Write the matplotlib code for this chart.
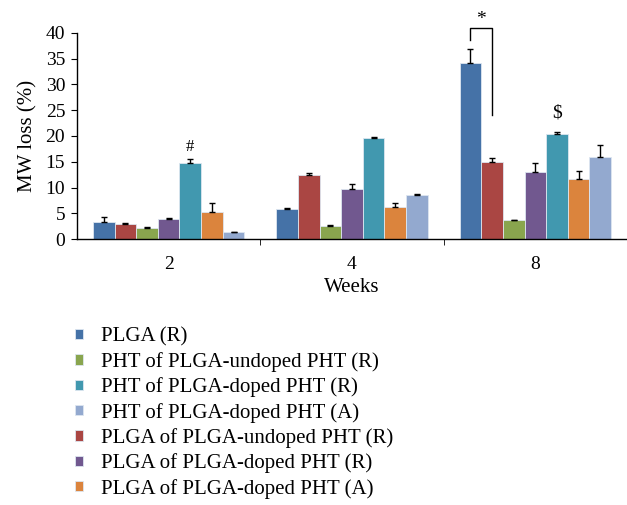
import matplotlib
matplotlib.use("Agg")
import matplotlib.pyplot as plt
import numpy as np

plt.rcParams['font.family'] = ['Liberation Serif', 'DejaVu Serif']

weeks = ["2", "4", "8"]
series_names = [
    "PLGA (R)",
    "PLGA of PLGA-undoped PHT (R)",
    "PHT of PLGA-undoped PHT (R)",
    "PLGA of PLGA-doped PHT (R)",
    "PHT of PLGA-doped PHT (R)",
    "PLGA of PLGA-doped PHT (A)",
    "PHT of PLGA-doped PHT (A)",
]
colors = ["#4572A7", "#AA4643", "#89A54E", "#71588F", "#4198AF", "#DB843D", "#93A9CF"]

plga_r = [3.3, 5.8, 34.1]
plga_undoped_r = [3.0, 12.4, 14.9]
pht_undoped_r = [2.1, 2.5, 3.6]
plga_doped_r = [3.9, 9.7, 13.1]
pht_doped_r = [14.75, 19.7, 20.3]
plga_doped_a = [5.3, 6.2, 11.6]
pht_doped_a = [1.3, 8.5, 15.9]

err_plga_r = [1.0, 0.2, 2.7]
err_plga_undoped_r = [0.2, 0.4, 0.8]
err_pht_undoped_r = [0.2, 0.2, 0.1]
err_plga_doped_r = [0.1, 0.9, 1.7]
err_pht_doped_r = [0.7, 0.2, 0.5]
err_plga_doped_a = [1.6, 0.8, 1.7]
err_pht_doped_a = [0.1, 0.3, 2.3]

values = [plga_r, plga_undoped_r, pht_undoped_r, plga_doped_r, pht_doped_r, plga_doped_a, pht_doped_a]
errors = [err_plga_r, err_plga_undoped_r, err_pht_undoped_r, err_plga_doped_r, err_pht_doped_r, err_plga_doped_a, err_pht_doped_a]

legend_order = [0, 2, 4, 6, 1, 3, 5]

fig = plt.figure(figsize=(6.27, 5.05), dpi=100)
ax = fig.add_axes([0.1228, 0.5267, 0.8772, 0.408])

x = np.arange(len(weeks))
w = 0.118
handles = []
for i, (vals, errs, c) in enumerate(zip(values, errors, colors)):
    pos = x + (i - 3) * w
    b = ax.bar(pos, vals, width=w, color=c, edgecolor='#dde6f0', linewidth=0.6,
               label=series_names[i], zorder=2)
    ax.errorbar(pos, vals, yerr=[np.zeros(len(vals)), errs], fmt='none',
                ecolor='black', elinewidth=1.0, capsize=2.5, capthick=1.0, zorder=3)
    handles.append(b)

# significance annotations
xb = x[2] + (0 - 3) * w
xr = x[2] + (1 - 3) * w
ax.plot([xb, xb, xr, xr], [38.7, 40.9, 40.9, 24.0], color='black', lw=1.0, clip_on=False)
ax.text((xb + xr) / 2, 42.6, "*", ha='center', va='center', fontsize=14)
ax.text(x[2] + (4 - 3) * w, 24.5, "$", ha='center', va='center', fontsize=14)
ax.text(x[0] + (4 - 3) * w, 17.9, "#", ha='center', va='center', fontsize=12)

ax.set_xlim(-0.5, 2.5)
ax.set_ylim(0, 40)
ax.set_yticks(np.arange(0, 41, 5))
ax.tick_params(axis='y', labelsize=14, length=4.5, pad=4, direction='out')
ax.set_xticks(x)
ax.set_xticklabels(weeks, fontsize=14)
ax.tick_params(axis='x', length=0, pad=12)
ax.set_xticks([0.5, 1.5], minor=True)
ax.tick_params(axis='x', which='minor', length=4, direction='out')
for s in ['top', 'right']:
    ax.spines[s].set_visible(False)
ax.spines['left'].set_linewidth(1.0)
ax.spines['bottom'].set_linewidth(1.0)
ax.set_ylabel("MW loss (%)", fontsize=15, labelpad=6)
ax.set_xlabel("Weeks", fontsize=15, labelpad=4)

fig.legend([handles[i] for i in legend_order], [series_names[i] for i in legend_order],
           loc='upper left', bbox_to_anchor=(0.107, 0.368), frameon=False,
           fontsize=15, handlelength=0.38, handleheight=0.38, handletextpad=0.85,
           labelspacing=0.26, borderaxespad=0)

fig.savefig("out.png", dpi=100)
